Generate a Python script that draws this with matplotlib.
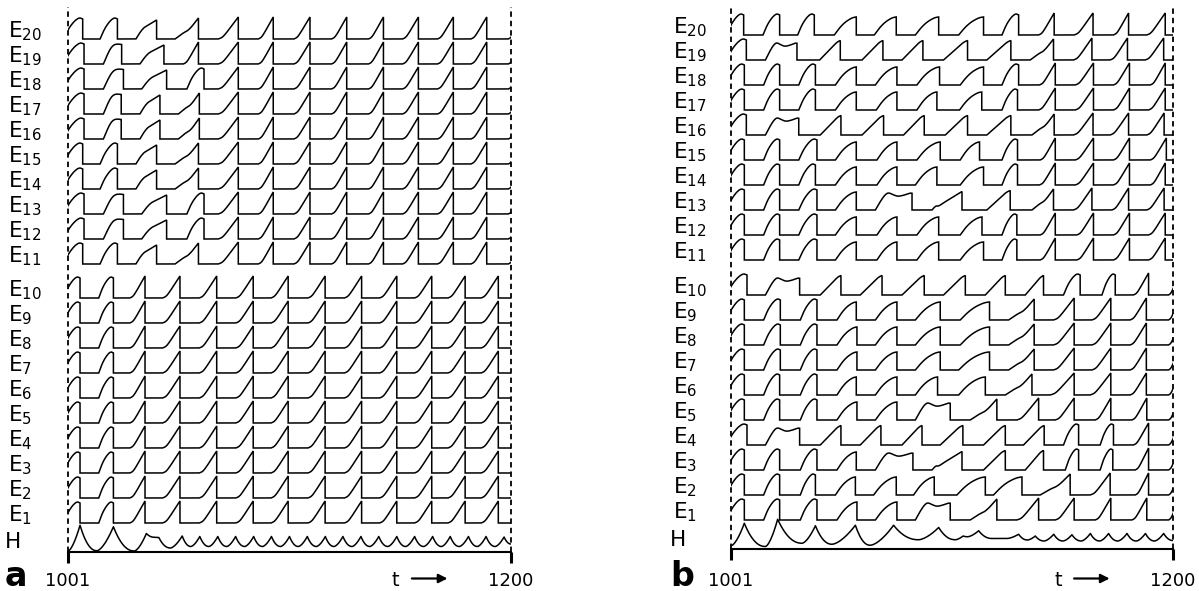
import numpy as np
import matplotlib
matplotlib.use("Agg")
from matplotlib import pyplot as plt
from matplotlib import transforms

T0, T1 = 1001, 1200

# pulse outlines: (fraction of pulse duration, height in row units)
SHAPES = {
    "round": [(0, 0), (0.25, 0.4), (0.5, 0.66), (0.7, 0.8), (0.85, 0.85), (1, 0.8)],
    "arc": [(0, 0), (0.25, 0.3), (0.5, 0.52), (0.75, 0.66), (0.9, 0.71), (1, 0.72)],
    "hump": [(0, 0), (0.15, 0.38), (0.27, 0.62), (0.36, 0.7), (0.5, 0.6), (0.62, 0.54),
             (0.8, 0.6), (0.95, 0.68), (1, 0.67)],
    "line": [(0, 0), (0.35, 0.3), (0.65, 0.56), (0.85, 0.72), (1, 0.78)],
    "shoulder": [(0, 0), (0.2, 0.14), (0.38, 0.26), (0.52, 0.32), (0.68, 0.46), (0.85, 0.66), (1, 0.84)],
    "ramp": [(0, 0), (0.2, 0.06), (0.4, 0.24), (0.7, 0.56), (1, 0.88)],
    "step": [(0, 0), (0.2, 0.27), (0.38, 0.45), (0.52, 0.52), (0.68, 0.6), (0.85, 0.68), (1, 0.76)],
    "plateau": [(0, 0), (0.22, 0.38), (0.42, 0.66), (0.6, 0.78), (0.8, 0.8), (1, 0.78)],
    "bumpramp": [(0, 0), (0.07, 0.1), (0.14, 0.17), (0.22, 0.15), (0.4, 0.3), (0.7, 0.52), (1, 0.74)],
}

# ---- panel a: (start, end, shape) per pulse ----
A_TOP_LATE = [(1068.5, 1077.5, "ramp"), (1086.5, 1093.2, "ramp"), (1102.5, 1109.7, "ramp"),
              (1119.4, 1126.2, "ramp"), (1136.0, 1142.7, "ramp"), (1151.3, 1158.4, "ramp"),
              (1167.0, 1174.1, "ramp"), (1182.0, 1189.1, "ramp"), (1198.8, 1205.0, "ramp")]
A_EARLY_1 = [(999.0, 1007.6, "round"), (1015.4, 1023.2, "round"),
             (1031.5, 1040.8, "step"), (1049.1, 1059.6, "shoulder")]
A_EARLY_2 = [(999.0, 1008.2, "round"), (1016.9, 1025.9, "plateau"),
             (1034.1, 1045.3, "step"), (1054.4, 1062.1, "round")]
A_EARLY_3 = [(999.0, 1008.2, "round"), (1016.9, 1024.9, "plateau"),
             (1033.3, 1042.3, "step"), (1050.6, 1060.0, "shoulder")]
A_E19 = [(999.0, 1008.2, "round"), (1016.9, 1025.1, "plateau"),
         (1033.3, 1044.1, "step"), (1052.8, 1059.6, "ramp")]
A_TOP = {20: A_EARLY_1, 19: A_E19, 18: A_EARLY_2, 17: A_EARLY_3, 16: A_EARLY_3,
         15: A_EARLY_1, 14: A_EARLY_1, 13: A_EARLY_2, 12: A_EARLY_2, 11: A_EARLY_1}
A_BOTTOM = [(999.0, 1006.4, "round"), (1014.8, 1021.4, "round"), (1028.8, 1035.6, "ramp"),
            (1043.5, 1051.3, "ramp"), (1060.0, 1067.8, "ramp"), (1076.4, 1084.2, "ramp"),
            (1092.2, 1099.9, "ramp"), (1108.8, 1116.5, "ramp"), (1125.2, 1132.9, "ramp"),
            (1141.0, 1148.7, "ramp"), (1156.7, 1164.4, "ramp"), (1171.7, 1179.4, "ramp"),
            (1186.6, 1194.3, "ramp")]
A_H_T = [1001.0, 1006.4, 1014.0, 1021.4, 1030.8, 1036.2, 1039.8, 1041.8, 1047.0, 1052.3,
         1056.2, 1060.2, 1064.3, 1068.3, 1072.3, 1076.3, 1080.4, 1084.4, 1088.4, 1092.4,
         1096.5, 1100.5, 1104.5, 1108.5, 1112.6, 1116.6, 1120.5, 1124.5, 1128.6, 1132.6,
         1136.6, 1140.6, 1144.7, 1148.7, 1152.7, 1156.7, 1160.8, 1164.8, 1168.8, 1172.7,
         1176.8, 1180.9, 1184.9, 1188.8, 1192.9, 1196.9, 1200.0]
A_H_V = [0.02, 1.05, 0.03, 0.99, 0.02, 0.72, 0.57, 0.56, 0.14, 0.62,
         0.2, 0.6, 0.2, 0.6, 0.2, 0.6, 0.2, 0.6, 0.2, 0.6,
         0.2, 0.6, 0.2, 0.6, 0.2, 0.6, 0.2, 0.6, 0.2, 0.6,
         0.2, 0.6, 0.2, 0.6, 0.2, 0.6, 0.2, 0.6, 0.2, 0.6,
         0.2, 0.6, 0.2, 0.6, 0.2, 0.58, 0.3]

# ---- panel b ----
B_ROWS = {
    20: [(999, 1006.7, "round"), (1015.4, 1022.9, "round"), (1031.0, 1038.5, "round"),
         (1047.5, 1057.4, "arc"), (1065.5, 1075.4, "arc"), (1084.0, 1094.5, "arc"),
         (1103.5, 1114.7, "arc"), (1123.0, 1130.5, "round"), (1139.5, 1146.5, "ramp"),
         (1155.5, 1164.0, "ramp"), (1173.2, 1180.0, "ramp"), (1188.2, 1196.5, "ramp")],
    19: [(999, 1007.9, "round"), (1016.5, 1030.7, "hump"), (1040.9, 1050.2, "line"),
         (1060.0, 1069.4, "line"), (1078.0, 1087.4, "line"), (1096.7, 1107.5, "line"),
         (1116.2, 1127.0, "line"), (1135.7, 1146.2, "shoulder"), (1155.2, 1163.5, "ramp"),
         (1171.7, 1179.5, "ramp"), (1187.5, 1195.8, "ramp")],
    18: [(999, 1007.0, "round"), (1015.7, 1022.9, "round"), (1031.5, 1039.0, "round"),
         (1048.0, 1057.4, "arc"), (1066.0, 1075.7, "arc"), (1084.7, 1094.9, "arc"),
         (1104.2, 1114.7, "arc"), (1123.0, 1130.5, "round"), (1139.9, 1147.0, "ramp"),
         (1156.0, 1164.2, "ramp"), (1173.2, 1180.4, "ramp"), (1189.8, 1196.5, "ramp")],
    17: [(999, 1007.0, "round"), (1015.7, 1022.9, "round"), (1031.5, 1039.0, "round"),
         (1048.0, 1057.4, "arc"), (1066.4, 1075.7, "arc"), (1084.7, 1093.7, "arc"),
         (1103.9, 1113.9, "arc"), (1123.0, 1130.0, "round"), (1139.5, 1147.0, "ramp"),
         (1156.0, 1164.2, "ramp"), (1173.2, 1180.4, "ramp"), (1189.0, 1196.5, "ramp")],
    16: [(999, 1007.9, "round"), (1016.5, 1031.5, "hump"), (1041.2, 1050.5, "line"),
         (1060.0, 1069.7, "line"), (1078.7, 1088.0, "line"), (1097.5, 1107.5, "line"),
         (1116.2, 1127.0, "line"), (1136.5, 1146.5, "shoulder"), (1155.2, 1164.0, "ramp"),
         (1171.7, 1180.0, "ramp"), (1188.2, 1196.0, "ramp")],
    15: [(999, 1007.0, "round"), (1015.7, 1022.9, "round"), (1031.5, 1039.7, "round"),
         (1048.0, 1057.4, "arc"), (1066.7, 1075.7, "arc"), (1084.7, 1095.2, "arc"),
         (1104.2, 1112.9, "arc"), (1123.0, 1130.0, "round"), (1140.2, 1147.0, "ramp"),
         (1156.0, 1164.2, "ramp"), (1173.2, 1180.4, "ramp"), (1189.8, 1197.0, "ramp")],
    14: [(999, 1007.0, "round"), (1015.7, 1022.9, "round"), (1031.5, 1039.0, "round"),
         (1048.0, 1057.4, "arc"), (1066.7, 1075.7, "arc"), (1084.0, 1093.7, "arc"),
         (1104.2, 1114.7, "arc"), (1123.0, 1130.0, "round"), (1139.9, 1147.0, "ramp"),
         (1156.0, 1164.2, "ramp"), (1173.2, 1180.4, "ramp"), (1189.8, 1196.5, "ramp")],
    13: [(999, 1007.0, "round"), (1015.7, 1022.9, "round"), (1031.5, 1039.7, "round"),
         (1048.0, 1057.4, "arc"), (1066.0, 1082.5, "hump"), (1091.5, 1105.0, "bumpramp"),
         (1116.2, 1126.7, "line"), (1136.5, 1146.2, "shoulder"), (1155.2, 1163.5, "ramp"),
         (1172.5, 1180.0, "ramp"), (1188.2, 1196.0, "ramp")],
    12: [(999, 1007.0, "round"), (1015.7, 1022.9, "round"), (1031.5, 1039.7, "round"),
         (1048.0, 1057.4, "arc"), (1066.7, 1075.7, "arc"), (1084.7, 1094.5, "arc"),
         (1104.2, 1114.0, "arc"), (1123.0, 1129.7, "round"), (1140.2, 1147.0, "ramp"),
         (1156.7, 1164.2, "ramp"), (1173.2, 1180.4, "ramp"), (1189.0, 1196.5, "ramp")],
    11: [(999, 1007.0, "round"), (1015.7, 1022.9, "round"), (1031.5, 1039.7, "round"),
         (1048.0, 1057.4, "arc"), (1066.7, 1075.7, "arc"), (1084.7, 1094.5, "arc"),
         (1104.2, 1114.7, "arc"), (1123.0, 1129.7, "round"), (1140.2, 1147.0, "ramp"),
         (1156.7, 1164.2, "ramp"), (1173.2, 1180.4, "ramp"), (1189.0, 1196.5, "ramp")],
    10: [(999, 1008.2, "round"), (1016.5, 1031.9, "hump"), (1041.2, 1050.5, "line"),
         (1059.2, 1069.0, "line"), (1078.0, 1088.0, "line"), (1096.7, 1106.5, "line"),
         (1115.5, 1124.5, "line"), (1133.5, 1141.7, "line"), (1150.7, 1158.2, "round"),
         (1168.0, 1174.0, "round"), (1182.2, 1189.0, "ramp"), (1198.0, 1203.0, "ramp")],
    9: [(999, 1007.0, "round"), (1015.7, 1023.2, "round"), (1032.2, 1039.7, "round"),
        (1048.7, 1057.4, "arc"), (1066.0, 1075.7, "arc"), (1084.0, 1095.2, "arc"),
        (1104.2, 1117.4, "arc"), (1126.0, 1137.5, "shoulder"), (1146.2, 1155.5, "ramp"),
        (1163.5, 1172.0, "ramp"), (1180.7, 1188.0, "ramp"), (1198.0, 1203.0, "ramp")],
    8: [(999, 1007.0, "round"), (1015.7, 1023.2, "round"), (1032.2, 1039.7, "round"),
        (1048.7, 1057.7, "arc"), (1066.0, 1075.7, "arc"), (1084.0, 1095.2, "arc"),
        (1104.2, 1117.4, "arc"), (1126.0, 1137.5, "shoulder"), (1146.2, 1155.5, "ramp"),
        (1163.5, 1172.0, "ramp"), (1180.7, 1188.0, "ramp"), (1198.0, 1203.0, "ramp")],
    7: [(999, 1007.0, "round"), (1015.7, 1023.2, "round"), (1032.2, 1039.7, "round"),
        (1048.7, 1057.7, "arc"), (1066.0, 1075.7, "arc"), (1084.0, 1095.2, "arc"),
        (1103.5, 1117.4, "arc"), (1126.0, 1137.5, "shoulder"), (1146.2, 1155.5, "ramp"),
        (1163.5, 1172.0, "ramp"), (1180.7, 1188.0, "ramp"), (1198.0, 1203.0, "ramp")],
    6: [(999, 1007.0, "round"), (1015.7, 1022.9, "round"), (1032.2, 1039.7, "round"),
        (1048.7, 1057.4, "arc"), (1066.0, 1075.7, "arc"), (1084.0, 1094.0, "arc"),
        (1103.5, 1115.5, "arc"), (1124.5, 1136.5, "shoulder"), (1144.7, 1155.5, "ramp"),
        (1162.7, 1172.0, "ramp"), (1180.7, 1188.0, "ramp"), (1198.0, 1203.0, "ramp")],
    5: [(999, 1007.0, "round"), (1015.7, 1022.9, "round"), (1032.2, 1039.7, "round"),
        (1048.7, 1057.7, "arc"), (1066.0, 1075.7, "arc"), (1084.0, 1099.7, "hump"),
        (1108.7, 1120.7, "shoulder"), (1129.7, 1139.5, "ramp"), (1147.0, 1155.5, "ramp"),
        (1165.0, 1172.0, "ramp"), (1181.5, 1188.2, "ramp"), (1198.0, 1203.0, "ramp")],
    4: [(999, 1008.2, "round"), (1016.5, 1031.9, "hump"), (1041.2, 1050.5, "line"),
        (1059.2, 1068.5, "line"), (1078.0, 1087.0, "line"), (1095.2, 1105.4, "line"),
        (1114.7, 1124.5, "line"), (1132.7, 1142.0, "line"), (1150.7, 1157.5, "round"),
        (1167.2, 1173.2, "round"), (1182.2, 1189.0, "ramp"), (1198.0, 1203.0, "ramp")],
    3: [(999, 1007.0, "round"), (1015.7, 1022.9, "round"), (1032.2, 1039.7, "round"),
        (1048.7, 1057.4, "arc"), (1066.0, 1082.9, "hump"), (1091.5, 1105.0, "bumpramp"),
        (1114.7, 1124.5, "line"), (1133.5, 1141.7, "line"), (1151.5, 1157.5, "round"),
        (1167.2, 1172.9, "round"), (1183.0, 1189.0, "ramp"), (1198.0, 1203.0, "ramp")],
    2: [(999, 1007.0, "round"), (1015.7, 1022.9, "round"), (1032.2, 1039.0, "round"),
        (1048.0, 1057.0, "arc"), (1065.2, 1075.4, "arc"), (1083.2, 1092.5, "arc"),
        (1102.7, 1115.5, "arc"), (1119.2, 1132.0, "arc"), (1140.2, 1153.7, "shoulder"),
        (1162.7, 1171.7, "ramp"), (1183.0, 1189.0, "ramp"), (1198.0, 1203.0, "ramp")],
    1: [(999, 1007.0, "round"), (1015.7, 1022.9, "round"), (1032.2, 1039.7, "round"),
        (1048.7, 1057.7, "arc"), (1066.0, 1075.7, "arc"), (1084.0, 1099.7, "hump"),
        (1108.7, 1120.7, "shoulder"), (1129.7, 1139.5, "ramp"), (1147.0, 1155.5, "ramp"),
        (1165.0, 1172.0, "ramp"), (1181.5, 1188.2, "ramp"), (1198.0, 1203.0, "ramp")],
}
B_H_T = [1001.0, 1007.0, 1016.5, 1022.0, 1033.0, 1039.0, 1046.5, 1057.0, 1063.7, 1074.2,
         1085.5, 1094.5, 1102.0, 1105.5, 1107.5, 1112.5, 1118.5, 1125.3, 1130.5, 1134.5,
         1138.0, 1142.0, 1146.3, 1150.5, 1154.5, 1158.7, 1162.8, 1167.0, 1171.0, 1175.2,
         1179.3, 1183.5, 1187.6, 1191.7, 1195.8, 1200.0]
B_H_V = [0.11, 1.01, 0.08, 1.17, 0.21, 0.91, 0.17, 0.93, 0.13, 0.93,
         0.35, 0.84, 0.35, 0.5, 0.47, 0.71, 0.40, 0.40, 0.57, 0.34,
         0.5, 0.3, 0.57, 0.3, 0.55, 0.3, 0.6, 0.3, 0.6, 0.3,
         0.6, 0.3, 0.6, 0.3, 0.6, 0.32]


def smooth(pts, n=3):
    pts = np.asarray(pts, float)
    for _ in range(n):
        q = 0.75 * pts[:-1] + 0.25 * pts[1:]
        r = 0.25 * pts[:-1] + 0.75 * pts[1:]
        new = np.empty((2 * len(q), 2))
        new[0::2] = q
        new[1::2] = r
        pts = np.vstack([pts[0], new, pts[-1]])
    return pts


def row_trace(pulses):
    xs, ys = [T0 - 10], [0.0]
    for start, end, shape in pulses:
        tpl = smooth(SHAPES[shape])
        xs.extend(start + tpl[:, 0] * (end - start))
        ys.extend(tpl[:, 1])
        xs.append(end)
        ys.append(0.0)
    xs.append(T1 + 10)
    ys.append(0.0)
    return np.array(xs), np.array(ys)


def h_trace(ts, vs):
    xs, ys = [ts[0]], [vs[0]]
    u = np.linspace(0, 1, 15)[1:]
    for i in range(len(ts) - 1):
        if vs[i + 1] < vs[i]:
            f = 1 - (1 - u) ** 2.2
        else:
            f = u ** 1.6
        xs.extend(ts[i] + u * (ts[i + 1] - ts[i]))
        ys.extend(vs[i] + f * (vs[i + 1] - vs[i]))
    return xs, ys


fig = plt.figure(figsize=(11.99, 5.91), dpi=100)
LW = 1.1
FS_E = 15.5


def panel(x0, x1, shift, gap, rows, h_t, h_v, lx, letter):
    W = 1199.0
    ax = fig.add_axes([x0 / W, 0, (x1 - x0) / W, 1])
    ax.set_xlim(T0, T1)
    ax.set_ylim(1 - (591 - 523 + shift) / 25.0, 1 + (523 - shift) / 25.0)
    ax.axis("off")
    trans = transforms.blended_transform_factory(fig.transFigure, ax.transData)
    for k in range(1, 21):
        base = k if k <= 10 else k + gap
        xs, ys = row_trace(rows[k])
        ax.plot(xs, base + ys, color="black", lw=LW, solid_joinstyle="miter")
        ax.text(lx / W, base + 0.08, r"$\mathregular{E_{%d}}$" % k, transform=trans,
                fontsize=FS_E, va="baseline", ha="left")
    yh = -0.14
    hx, hy = h_trace(h_t, h_v)
    ax.plot(hx, yh + np.array(hy), color="black", lw=LW)
    ax.text((lx - 3) / W, yh + 0.12, "H", transform=trans, fontsize=FS_E,
            va="baseline", ha="left")
    top = 1 + (523 - shift - 7) / 25.0
    for t in (T0, T1):
        ax.plot([t, t], [yh, top], color="black", lw=1.3, ls=(0, (3, 2.2)), clip_on=False)
        ax.plot([t, t], [yh - 0.44, yh], color="black", lw=2.2, clip_on=False,
                solid_capstyle="butt")
    ax.plot([T0, T1], [yh, yh], color="black", lw=1.5, clip_on=False)
    ybl = 1 - (586 - 523 + shift) / 25.0
    ax.text(T0, ybl, "1001", fontsize=13, ha="center", va="baseline")
    ax.text(T1, ybl, "1200", fontsize=13, ha="center", va="baseline")
    ax.text((lx - 3) / W, ybl, letter, transform=trans, fontsize=24,
            fontweight="bold", ha="left", va="baseline")
    tx = T0 + 0.731 * (T1 - T0)
    ax.text(tx, ybl, "t", fontsize=14, ha="left", va="baseline")
    ax.annotate("", xy=(tx + 25, ybl + 0.3), xytext=(tx + 9, ybl + 0.3),
                arrowprops=dict(arrowstyle="-|>", lw=1.6, color="black",
                                mutation_scale=13, shrinkA=0, shrinkB=0))
    return ax


rows_a = {}
for k in range(11, 21):
    rows_a[k] = A_TOP[k] + A_TOP_LATE
for k in range(1, 11):
    rows_a[k] = A_BOTTOM

panel(68, 511, 0, 0.36, rows_a, A_H_T, A_H_V, 8, "a")
panel(731, 1173, 3, 0.4, B_ROWS, B_H_T, B_H_V, 673, "b")

fig.savefig("out.png", dpi=100, facecolor="white")
